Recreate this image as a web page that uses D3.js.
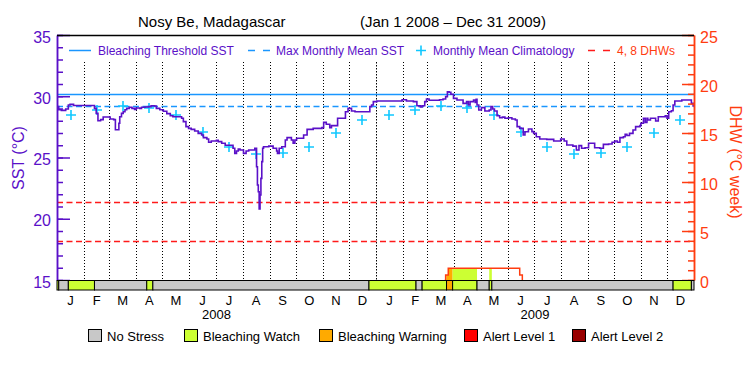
<!DOCTYPE html>
<html>
<head>
<meta charset="utf-8">
<script src="https://cdn.jsdelivr.net/npm/d3@7"></script>
<style>
body { margin: 0; background: #fff; }
svg { display: block; }
</style>
</head>
<body>
<svg width="750" height="375"></svg>
<script>
// daily SST steps
const sstData = [
  ['2008-01-01', 29.15], ['2008-01-03', 28.9], ['2008-01-06', 28.85], ['2008-01-11', 28.96],
  ['2008-01-14', 29.29], ['2008-01-16', 29.34], ['2008-01-20', 29.25], ['2008-02-13', 29.01],
  ['2008-02-15', 28.6], ['2008-02-17', 28.0], ['2008-02-20', 28.09], ['2008-02-23', 28.31],
  ['2008-03-02', 28.14], ['2008-03-06', 28.09], ['2008-03-08', 27.27], ['2008-03-12', 27.79],
  ['2008-03-13', 28.33], ['2008-03-15', 28.6], ['2008-03-17', 28.74], ['2008-03-19', 28.9],
  ['2008-03-21', 29.01], ['2008-03-24', 29.1], ['2008-03-27', 29.01], ['2008-03-30', 28.93],
  ['2008-04-01', 29.04], ['2008-04-05', 29.01], ['2008-04-07', 29.1], ['2008-04-11', 29.12],
  ['2008-04-15', 29.15], ['2008-04-18', 29.23], ['2008-04-22', 29.2], ['2008-04-24', 29.01],
  ['2008-04-28', 28.9], ['2008-05-02', 28.77], ['2008-05-06', 28.58], ['2008-05-10', 28.41],
  ['2008-05-13', 28.33], ['2008-05-23', 28.2], ['2008-05-25', 27.93], ['2008-05-28', 27.52],
  ['2008-05-31', 27.38], ['2008-06-03', 27.3], ['2008-06-07', 27.16], ['2008-06-11', 26.97],
  ['2008-06-15', 26.84], ['2008-06-17', 26.62], ['2008-06-21', 26.51], ['2008-06-23', 26.24],
  ['2008-06-26', 26.35], ['2008-07-02', 26.4], ['2008-07-04', 26.3], ['2008-07-08', 26.16],
  ['2008-07-12', 26.0], ['2008-07-21', 25.75], ['2008-07-23', 25.34], ['2008-07-25', 25.53],
  ['2008-07-27', 25.7], ['2008-07-29', 25.61], ['2008-08-02', 25.34], ['2008-08-05', 25.53],
  ['2008-08-08', 25.61], ['2008-08-15', 25.75], ['2008-08-17', 24.25], ['2008-08-18', 22.76],
  ['2008-08-19', 22.2], ['2008-08-20', 20.8], ['2008-08-21', 21.94], ['2008-08-22', 23.3],
  ['2008-08-23', 24.66], ['2008-08-24', 25.75], ['2008-08-25', 25.88], ['2008-08-31', 25.93],
  ['2008-09-05', 25.75], ['2008-09-09', 25.53], ['2008-09-10', 25.34], ['2008-09-12', 25.75],
  ['2008-09-15', 25.88], ['2008-09-19', 26.43], ['2008-09-21', 26.62], ['2008-09-26', 26.43],
  ['2008-09-28', 26.16], ['2008-09-30', 26.43], ['2008-10-02', 26.57], ['2008-10-10', 26.84],
  ['2008-10-14', 27.3], ['2008-10-21', 27.38], ['2008-10-31', 27.44], ['2008-11-02', 27.87],
  ['2008-11-05', 27.71], ['2008-11-09', 27.44], ['2008-11-11', 27.6], ['2008-11-18', 28.2],
  ['2008-11-27', 28.74], ['2008-11-30', 29.01], ['2008-12-04', 28.79], ['2008-12-08', 28.74],
  ['2008-12-23', 28.74], ['2008-12-25', 29.15], ['2008-12-27', 29.29], ['2008-12-29', 29.56],
  ['2009-01-02', 29.61], ['2009-01-31', 29.72], ['2009-02-05', 29.61], ['2009-02-13', 29.56],
  ['2009-02-17', 29.23], ['2009-02-21', 29.12], ['2009-02-23', 29.23], ['2009-02-26', 29.56],
  ['2009-02-28', 29.78], ['2009-03-03', 29.67], ['2009-03-15', 29.72], ['2009-03-19', 29.78],
  ['2009-03-22', 29.97], ['2009-03-24', 30.37], ['2009-03-26', 30.33], ['2009-03-28', 30.16],
  ['2009-03-31', 29.83], ['2009-04-04', 29.7], ['2009-04-11', 29.42], ['2009-04-15', 29.56],
  ['2009-04-17', 29.29], ['2009-04-19', 29.56], ['2009-04-23', 29.7], ['2009-04-25', 29.5],
  ['2009-04-26', 29.75], ['2009-04-27', 29.29], ['2009-04-29', 28.88], ['2009-05-02', 29.07],
  ['2009-05-06', 28.8], ['2009-05-11', 28.88], ['2009-05-13', 29.15], ['2009-05-15', 28.96],
  ['2009-05-17', 28.8], ['2009-05-20', 28.41], ['2009-05-23', 28.25], ['2009-05-26', 28.3],
  ['2009-05-29', 28.2], ['2009-06-02', 28.25], ['2009-06-06', 28.14], ['2009-06-10', 28.06],
  ['2009-06-12', 27.52], ['2009-06-15', 27.38], ['2009-06-19', 26.84], ['2009-06-21', 27.1],
  ['2009-06-25', 27.33], ['2009-06-29', 27.11], ['2009-07-01', 26.97], ['2009-07-04', 26.7],
  ['2009-07-08', 26.51], ['2009-07-16', 26.48], ['2009-07-24', 26.35], ['2009-08-01', 26.51],
  ['2009-08-05', 26.35], ['2009-08-08', 26.02], ['2009-08-15', 25.93], ['2009-08-19', 25.61],
  ['2009-08-22', 25.97], ['2009-08-25', 25.75], ['2009-08-29', 25.8], ['2009-09-02', 26.16],
  ['2009-09-09', 25.8], ['2009-09-15', 25.75], ['2009-09-19', 26.07], ['2009-09-25', 26.1],
  ['2009-09-29', 26.24], ['2009-10-02', 26.35], ['2009-10-05', 26.24], ['2009-10-08', 26.62],
  ['2009-10-12', 26.7], ['2009-10-14', 26.9], ['2009-10-16', 26.8], ['2009-10-19', 26.97],
  ['2009-10-23', 27.24], ['2009-10-26', 27.52], ['2009-10-31', 27.6], ['2009-11-01', 27.79],
  ['2009-11-04', 28.2], ['2009-11-06', 27.87], ['2009-11-08', 28.2], ['2009-11-09', 28.06],
  ['2009-11-12', 28.2], ['2009-11-18', 27.98], ['2009-11-21', 28.33], ['2009-11-29', 28.41],
  ['2009-12-01', 28.2], ['2009-12-03', 28.74], ['2009-12-06', 28.82], ['2009-12-08', 29.29],
  ['2009-12-10', 29.61], ['2009-12-18', 29.69], ['2009-12-29', 29.42], ['2009-12-31', 29.15]
]

// monthly mean climatology, Jan..Dec
const climValues = [28.45, 28.88, 29.2, 29.08, 28.47, 27.07, 25.83, 25.31, 25.34, 25.83, 26.96, 28.06]
const climYears = [2008, 2009]

const maxMonthlyMean = 29.2
const bleachThreshold = 30.2
const dhwLevels = [4, 8]

const dhwData = [
  ['2009-03-21', 0], ['2009-03-22', 0.5], ['2009-03-25', 1.2], ['2009-06-15', 0.5], ['2009-06-18', 0]
]

// stress level periods: 0 none, 1 watch, 2 warning, 3 alert 1, 4 alert 2
const stressStarts = ['2008-01-01', '2008-01-03', '2008-01-14', '2008-02-13', '2008-04-13', '2008-04-20',
  '2008-12-24', '2009-02-16', '2009-02-23', '2009-03-23', '2009-03-30', '2009-04-27', '2009-05-11',
  '2009-05-14', '2009-12-08', '2009-12-29']
const stressLevels = [1, 0, 1, 0, 1, 0, 1, 0, 1, 2, 1, 0, 1, 0, 1, 0]
const stressNames = ['No Stress', 'Bleaching Watch', 'Bleaching Warning', 'Alert Level 1', 'Alert Level 2']

const monthLabels = ['J', 'F', 'M', 'A', 'M', 'J', 'J', 'A', 'S', 'O', 'N', 'D']
const sstTicks = [15, 20, 25, 30, 35]
const dhwTicks = [0, 5, 10, 15, 20, 25]

// styles
const stressColors = ['#c8c8c8', '#ccff33', '#ffaa00', '#ff0000', '#990000']
const purple = '#5a10c8'
const orange = '#ff3c10'
const blue = '#1a96ff'
const cyan = '#10c8ff'
const font = '"Liberation Sans", Arial, sans-serif'

const parseDate = d3.timeParse('%Y-%m-%d')
const svg = d3.select('svg').attr('font-family', font)

const x = d3.scaleTime()
  .domain([parseDate('2008-01-01'), parseDate('2010-01-01')])
  .range([57, 694])
const ySST = d3.scaleLinear().domain([15, 35]).range([280, 35])
const yDHW = d3.scaleLinear().domain([0, 25]).range([280, 35])
const px = v => Math.round(v) + 0.5

// title
svg.append('text').attr('x', 138).attr('y', 27).attr('font-size', 15).text('Nosy Be, Madagascar')
svg.append('text').attr('x', 360).attr('y', 27).attr('font-size', 15).text('(Jan 1 2008 \u2013 Dec 31 2009)')

// month grid
const monthStarts = d3.timeMonth.range(parseDate('2008-02-01'), parseDate('2010-01-01'))
svg.append('g').selectAll('line')
  .data(monthStarts)
  .enter()
  .append('line')
  .attr('x1', d => px(x(d))).attr('x2', d => px(x(d)))
  .attr('y1', 62).attr('y2', 280)
  .attr('stroke', '#000')
  .attr('stroke-dasharray', d => d.getMonth() === 0 ? '1.5,1.5' : '1,2')

// reference lines
svg.append('line')
  .attr('x1', 57).attr('x2', 694)
  .attr('y1', px(ySST(bleachThreshold))).attr('y2', px(ySST(bleachThreshold)))
  .attr('stroke', blue).attr('stroke-width', 1.5)
svg.append('line')
  .attr('x1', 57).attr('x2', 694)
  .attr('y1', px(ySST(maxMonthlyMean))).attr('y2', px(ySST(maxMonthlyMean)))
  .attr('stroke', blue).attr('stroke-width', 1.5).attr('stroke-dasharray', '6,3.5')
svg.append('g').selectAll('line')
  .data(dhwLevels)
  .enter()
  .append('line')
  .attr('x1', 57).attr('x2', 694)
  .attr('y1', d => px(yDHW(d))).attr('y2', d => px(yDHW(d)))
  .attr('stroke', '#ff1a1a').attr('stroke-width', 1.3).attr('stroke-dasharray', '6,3.5')

// stress periods
const stress = stressStarts.map((s, i) => ({
  start: parseDate(s),
  end: i + 1 < stressStarts.length ? parseDate(stressStarts[i + 1]) : x.domain()[1],
  level: stressLevels[i]
}))

const dhw = dhwData.map(d => ({ date: parseDate(d[0]), value: d[1] }))
const dhwArea = d3.area()
  .x(d => x(d.date)).y0(yDHW(0)).y1(d => yDHW(d.value))
  .curve(d3.curveStepAfter)

const defs = svg.append('defs')
stress.filter(d => d.level > 0).forEach((d, i) => {
  defs.append('clipPath').attr('id', 'clip' + i)
    .append('rect')
    .attr('x', x(d.start)).attr('width', x(d.end) - x(d.start))
    .attr('y', 35).attr('height', 245)
  svg.append('path')
    .datum(dhw)
    .attr('d', dhwArea)
    .attr('fill', stressColors[d.level])
    .attr('clip-path', 'url(#clip' + i + ')')
})

svg.append('path')
  .datum(dhw)
  .attr('d', d3.line().x(d => x(d.date)).y(d => yDHW(d.value)).curve(d3.curveStepAfter))
  .attr('fill', 'none').attr('stroke', orange).attr('stroke-width', 1.5)

// climatology crosses
const clim = climYears.flatMap(yr => climValues.map((v, i) => {
  const s = new Date(yr, i, 1), e = new Date(yr, i + 1, 1)
  return { date: new Date((+s + +e) / 2), value: v }
}))
svg.append('g').selectAll('path')
  .data(clim)
  .enter()
  .append('path')
  .attr('d', d => {
    const cx = Math.round(x(d.date)), cy = Math.round(ySST(d.value))
    return 'M' + (cx - 5) + ',' + cy + 'H' + (cx + 5) + 'M' + cx + ',' + (cy - 5) + 'V' + (cy + 5)
  })
  .attr('stroke', cyan).attr('stroke-width', 1.6)

// SST line
const sst = sstData.map(d => ({ date: parseDate(d[0]), value: d[1] }))
svg.append('path')
  .datum(sst)
  .attr('d', d3.line().x(d => x(d.date)).y(d => ySST(d.value)).curve(d3.curveStepAfter))
  .attr('fill', 'none').attr('stroke', purple).attr('stroke-width', 1.6)

// axes
function styleAxis(g, color, size) {
  g.attr('font-family', font).attr('font-size', size)
  g.selectAll('.domain').attr('stroke', color).attr('stroke-width', 1.5)
  g.selectAll('.tick line').attr('stroke', color).attr('stroke-width', 1.5)
  g.selectAll('.tick text').attr('fill', color).attr('dy', '0.45em')
}

svg.append('g').attr('transform', 'translate(57,0)')
  .call(d3.axisLeft(ySST).tickValues(d3.range(15, 36)).tickSize(-6).tickSizeOuter(0).tickFormat(''))
  .call(g => styleAxis(g, purple, 16))
svg.append('g').attr('transform', 'translate(57,0)')
  .call(d3.axisLeft(ySST).tickValues(sstTicks).tickSize(-13).tickSizeOuter(0).tickPadding(6))
  .call(g => styleAxis(g, purple, 16))

svg.append('g').attr('transform', 'translate(694,0)')
  .call(d3.axisRight(yDHW).tickValues(d3.range(0, 26)).tickSize(-6).tickSizeOuter(0).tickFormat(''))
  .call(g => styleAxis(g, orange, 16))
svg.append('g').attr('transform', 'translate(694,0)')
  .call(d3.axisRight(yDHW).tickValues(dhwTicks).tickSize(-12).tickSizeOuter(0).tickPadding(6))
  .call(g => styleAxis(g, orange, 16))

svg.append('line').attr('x1', 57).attr('x2', 694).attr('y1', 35.5).attr('y2', 35.5)
  .attr('stroke', '#000').attr('stroke-width', 1.5)

svg.append('text')
  .attr('transform', 'translate(24,158) rotate(-90)')
  .attr('text-anchor', 'middle').attr('font-size', 16).attr('fill', purple)
  .text('SST (\u00b0C)')
svg.append('text')
  .attr('transform', 'translate(730,162) rotate(90)')
  .attr('text-anchor', 'middle').attr('font-size', 16).attr('fill', orange)
  .text('DHW (\u00b0C week)')

// stress bar
svg.append('g').selectAll('rect')
  .data(stress)
  .enter()
  .append('rect')
  .attr('x', d => x(d.start)).attr('width', d => x(d.end) - x(d.start))
  .attr('y', 280.5).attr('height', 9.5)
  .attr('fill', d => stressColors[d.level])
  .attr('stroke', '#000').attr('stroke-width', 1)

// month and year labels
const months = d3.timeMonth.range(x.domain()[0], x.domain()[1])
svg.append('g').selectAll('text')
  .data(months)
  .enter()
  .append('text')
  .attr('x', d => x(new Date((+d + +d3.timeMonth.offset(d, 1)) / 2)))
  .attr('y', 305)
  .attr('text-anchor', 'middle').attr('font-size', 13)
  .text(d => monthLabels[d.getMonth()])
svg.append('g').selectAll('text')
  .data(climYears)
  .enter()
  .append('text')
  .attr('x', d => x(new Date((+new Date(d, 0, 1) + +new Date(d + 1, 0, 1)) / 2)))
  .attr('y', 319)
  .attr('text-anchor', 'middle').attr('font-size', 13)
  .text(d => d)

// top legend
const lg = svg.append('g').attr('font-size', 12)
lg.append('line').attr('x1', 69).attr('x2', 91).attr('y1', 50.5).attr('y2', 50.5)
  .attr('stroke', blue).attr('stroke-width', 1.5)
lg.append('text').attr('x', 98).attr('y', 54.5).attr('fill', purple).text('Bleaching Threshold SST')
lg.append('line').attr('x1', 248).attr('x2', 271).attr('y1', 50.5).attr('y2', 50.5)
  .attr('stroke', blue).attr('stroke-width', 1.5).attr('stroke-dasharray', '7,8')
lg.append('text').attr('x', 276).attr('y', 54.5).attr('fill', purple).text('Max Monthly Mean SST')
lg.append('path').attr('d', 'M416,50.5H426M421,45.5V55.5').attr('stroke', cyan).attr('stroke-width', 1.6)
lg.append('text').attr('x', 433).attr('y', 54.5).attr('fill', purple).text('Monthly Mean Climatology')
lg.append('line').attr('x1', 588).attr('x2', 611).attr('y1', 50.5).attr('y2', 50.5)
  .attr('stroke', '#ff1a1a').attr('stroke-width', 1.5).attr('stroke-dasharray', '7,8')
lg.append('text').attr('x', 617).attr('y', 54.5).attr('fill', orange).text('4, 8 DHWs')

// stress legend
const legendX = [88, 184, 319, 464, 572]
const sl = svg.append('g').selectAll('g')
  .data(stressNames)
  .enter()
  .append('g')
  .attr('transform', (d, i) => 'translate(' + legendX[i] + ',329)')
sl.append('rect')
  .attr('x', 0.5).attr('y', 0.5).attr('width', 13).attr('height', 12)
  .attr('fill', (d, i) => stressColors[i]).attr('stroke', '#000')
sl.append('text')
  .attr('x', 19).attr('y', 11.5).attr('font-size', 13)
  .text(d => d)
</script>
</body>
</html>
